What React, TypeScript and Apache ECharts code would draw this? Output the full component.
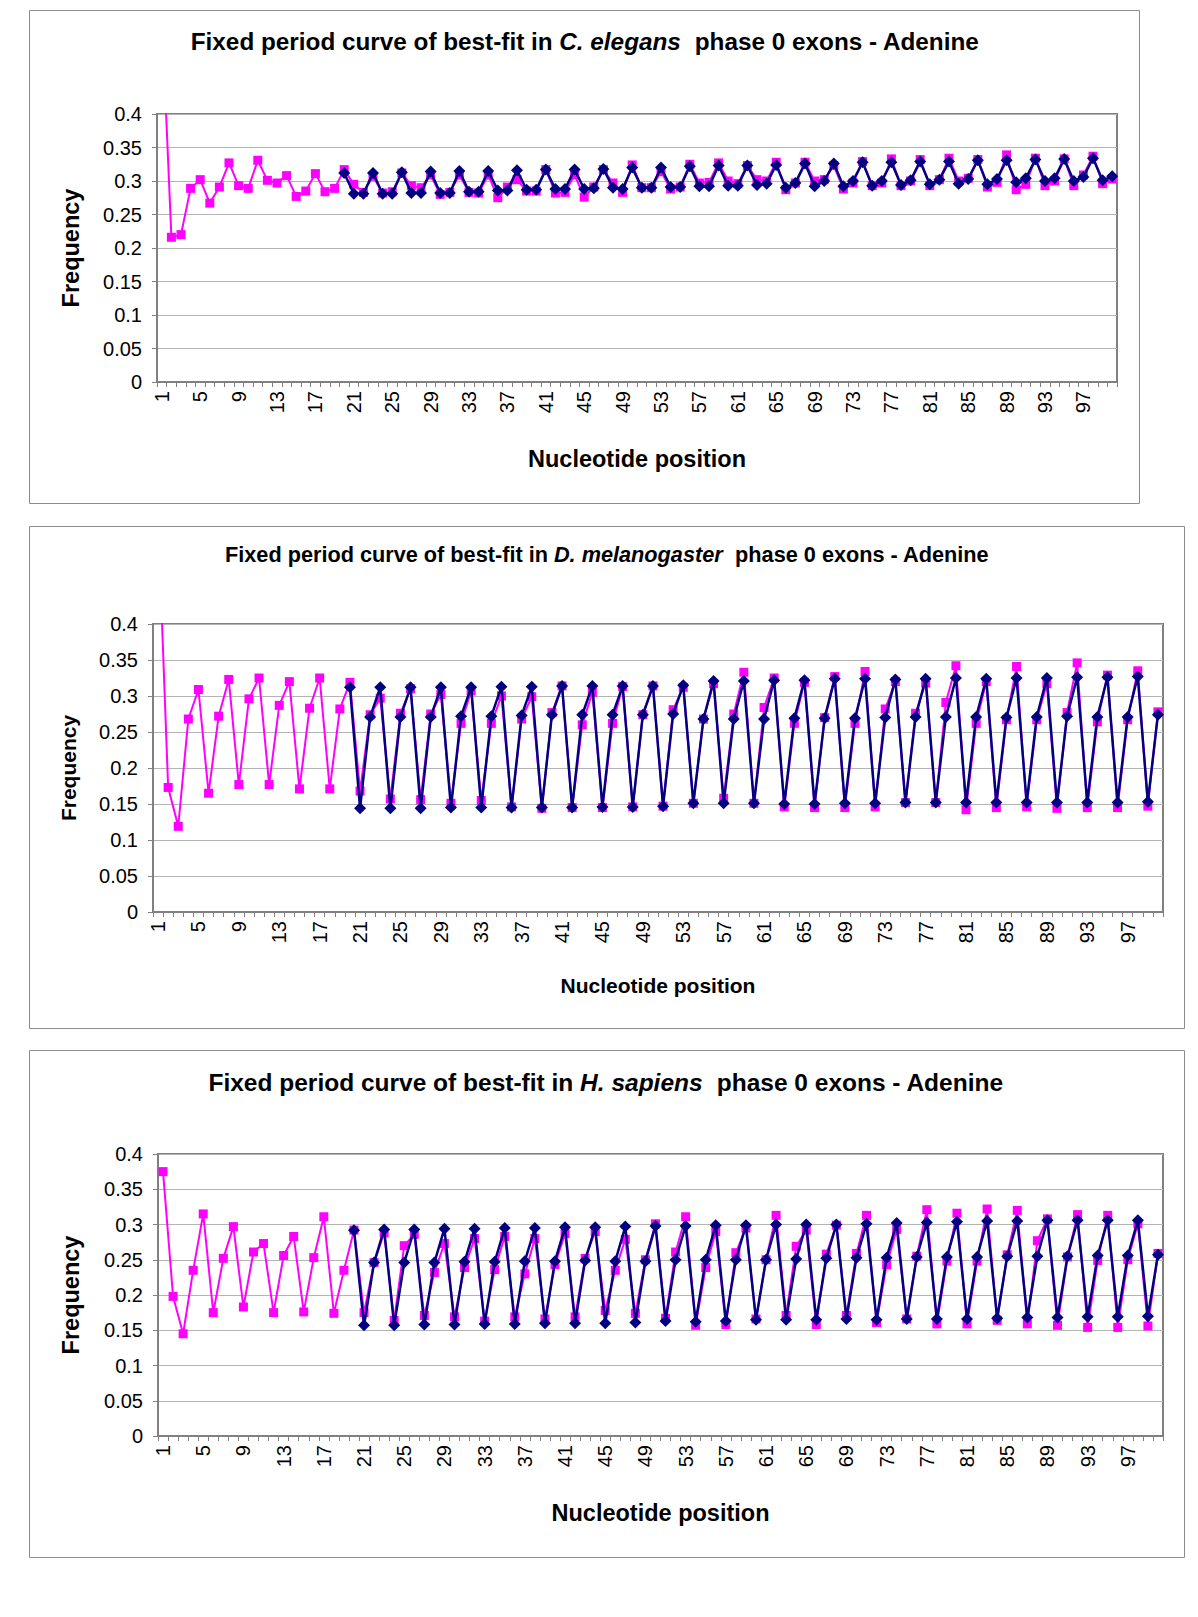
import React, { useEffect, useRef } from "react";
import * as echarts from "echarts";

// ---------- DATA ----------
const positions: string[] = Array.from({ length: 100 }, (_, i) => String(i + 1));
const FIT_START = 20; // best-fit curve starts at nucleotide 20

// C. elegans – observed adenine frequency (positions 1..100)
const celObserved = [
  0.55, 0.216, 0.22, 0.289, 0.302, 0.267, 0.291, 0.327, 0.293, 0.289,
  0.331, 0.301, 0.297, 0.308, 0.277, 0.285, 0.311, 0.284, 0.289, 0.317,
  0.295, 0.283, 0.307, 0.282, 0.284, 0.312, 0.293, 0.29, 0.309, 0.28,
  0.283, 0.309, 0.283, 0.282, 0.309, 0.275, 0.291, 0.302, 0.285, 0.285,
  0.317, 0.282, 0.283, 0.309, 0.276, 0.291, 0.317, 0.297, 0.283, 0.324,
  0.29, 0.29, 0.314, 0.288, 0.291, 0.325, 0.297, 0.298, 0.327, 0.3,
  0.296, 0.323, 0.302, 0.3, 0.328, 0.287, 0.297, 0.328, 0.3, 0.302,
  0.323, 0.288, 0.297, 0.329, 0.293, 0.297, 0.333, 0.293, 0.3, 0.332,
  0.293, 0.302, 0.334, 0.3, 0.304, 0.332, 0.291, 0.298, 0.339, 0.287,
  0.295, 0.334, 0.293, 0.3, 0.333, 0.293, 0.309, 0.337, 0.296, 0.303,
];
// C. elegans – fixed period best-fit curve (positions 20..100)
const celFit = [
  0.312, 0.281, 0.281, 0.312, 0.281, 0.281, 0.313, 0.282, 0.282, 0.314,
  0.282, 0.282, 0.315, 0.284, 0.284, 0.315, 0.286, 0.286, 0.316, 0.287,
  0.287, 0.317, 0.288, 0.288, 0.317, 0.288, 0.289, 0.318, 0.29, 0.288,
  0.32, 0.29, 0.29, 0.32, 0.291, 0.291, 0.322, 0.292, 0.292, 0.323,
  0.293, 0.293, 0.323, 0.294, 0.296, 0.324, 0.29, 0.297, 0.326, 0.292,
  0.3, 0.326, 0.292, 0.3, 0.328, 0.293, 0.3, 0.328, 0.294, 0.301,
  0.329, 0.295, 0.302, 0.329, 0.296, 0.303, 0.331, 0.295, 0.303, 0.331,
  0.298, 0.304, 0.332, 0.3, 0.304, 0.333, 0.3, 0.306, 0.334, 0.301,
  0.307,
];

// D. melanogaster – observed
const dmeObserved = [
  0.55, 0.173, 0.119, 0.268, 0.309, 0.165, 0.272, 0.323, 0.177, 0.296,
  0.325, 0.177, 0.287, 0.32, 0.171, 0.283, 0.325, 0.171, 0.282, 0.319,
  0.168, 0.274, 0.297, 0.157, 0.276, 0.31, 0.156, 0.275, 0.302, 0.151,
  0.262, 0.307, 0.155, 0.262, 0.3, 0.146, 0.268, 0.299, 0.144, 0.277,
  0.314, 0.145, 0.26, 0.305, 0.145, 0.262, 0.313, 0.146, 0.274, 0.314,
  0.147, 0.281, 0.312, 0.151, 0.268, 0.317, 0.158, 0.275, 0.333, 0.151,
  0.284, 0.325, 0.146, 0.262, 0.319, 0.145, 0.27, 0.327, 0.145, 0.262,
  0.334, 0.146, 0.282, 0.32, 0.152, 0.276, 0.318, 0.152, 0.291, 0.342,
  0.142, 0.262, 0.32, 0.145, 0.267, 0.341, 0.146, 0.267, 0.317, 0.144,
  0.277, 0.346, 0.145, 0.264, 0.329, 0.145, 0.267, 0.335, 0.147, 0.278,
];
// D. melanogaster – best-fit (positions 20..100)
const dmeFit = [
  0.312, 0.144, 0.271, 0.312, 0.144, 0.271, 0.312, 0.144, 0.271, 0.312,
  0.145, 0.272, 0.312, 0.145, 0.272, 0.313, 0.145, 0.273, 0.313, 0.145,
  0.274, 0.314, 0.145, 0.274, 0.314, 0.146, 0.274, 0.314, 0.146, 0.274,
  0.314, 0.147, 0.275, 0.315, 0.151, 0.268, 0.321, 0.151, 0.268, 0.321,
  0.151, 0.268, 0.322, 0.15, 0.269, 0.322, 0.15, 0.269, 0.324, 0.151,
  0.269, 0.324, 0.151, 0.27, 0.323, 0.152, 0.271, 0.324, 0.152, 0.271,
  0.325, 0.152, 0.271, 0.324, 0.152, 0.27, 0.325, 0.152, 0.271, 0.325,
  0.152, 0.272, 0.326, 0.152, 0.271, 0.326, 0.152, 0.271, 0.327, 0.153,
  0.274,
];

// H. sapiens – observed
const hsaObserved = [
  0.375, 0.198, 0.145, 0.235, 0.315, 0.175, 0.252, 0.297, 0.183, 0.261,
  0.273, 0.175, 0.256, 0.283, 0.176, 0.253, 0.311, 0.174, 0.235, 0.292,
  0.175, 0.246, 0.288, 0.164, 0.27, 0.286, 0.171, 0.232, 0.273, 0.169,
  0.239, 0.28, 0.163, 0.236, 0.283, 0.169, 0.23, 0.28, 0.166, 0.243,
  0.287, 0.169, 0.252, 0.29, 0.178, 0.235, 0.279, 0.174, 0.25, 0.301,
  0.167, 0.261, 0.311, 0.157, 0.239, 0.29, 0.158, 0.26, 0.295, 0.166,
  0.25, 0.313, 0.171, 0.269, 0.292, 0.158, 0.258, 0.299, 0.171, 0.259,
  0.313, 0.161, 0.243, 0.293, 0.166, 0.255, 0.321, 0.159, 0.248, 0.316,
  0.159, 0.248, 0.322, 0.164, 0.257, 0.32, 0.159, 0.277, 0.308, 0.157,
  0.254, 0.314, 0.154, 0.249, 0.313, 0.154, 0.25, 0.301, 0.156, 0.259,
];
// H. sapiens – best-fit (positions 20..100)
const hsaFit = [
  0.292, 0.157, 0.246, 0.293, 0.157, 0.246, 0.293, 0.158, 0.246, 0.294,
  0.158, 0.247, 0.294, 0.159, 0.247, 0.295, 0.159, 0.248, 0.295, 0.16,
  0.248, 0.296, 0.16, 0.249, 0.296, 0.16, 0.248, 0.297, 0.161, 0.248,
  0.298, 0.163, 0.25, 0.298, 0.162, 0.25, 0.299, 0.163, 0.25, 0.299,
  0.165, 0.25, 0.3, 0.165, 0.251, 0.3, 0.165, 0.252, 0.3, 0.166,
  0.253, 0.301, 0.165, 0.253, 0.302, 0.166, 0.254, 0.303, 0.166, 0.254,
  0.304, 0.166, 0.254, 0.305, 0.167, 0.255, 0.305, 0.168, 0.255, 0.306,
  0.168, 0.255, 0.306, 0.169, 0.256, 0.306, 0.169, 0.256, 0.306, 0.17,
  0.257,
];

const speciesNames = ["C. elegans", "D. melanogaster", "H. sapiens"];
const observedSets = [celObserved, dmeObserved, hsaObserved];
const fitSets = [celFit, dmeFit, hsaFit];

// ---------- LAYOUT ----------
const FONT = '"Liberation Sans", Arial, sans-serif';
const layouts = [
  { box: [29, 10, 1110, 493], grid: [157, 114, 960, 268], title: [585, 41], titleSize: 24.3, nameSize: 23.5, xGap: 65, yGap: 74 },
  { box: [29, 526, 1155, 502], grid: [153, 624, 1010, 288], title: [607, 554], titleSize: 21.7, nameSize: 21, xGap: 63, yGap: 74 },
  { box: [29, 1050, 1155, 507], grid: [158, 1154, 1005, 282], title: [606, 1082], titleSize: 24.5, nameSize: 23.5, xGap: 65, yGap: 75 },
];

export default function App() {
  const ref = useRef<HTMLDivElement>(null);

  useEffect(() => {
    if (!ref.current) return;
    const chart = echarts.init(ref.current, undefined, { renderer: "svg" });

    const grids = layouts.map((l) => ({
      left: l.grid[0],
      top: l.grid[1],
      width: l.grid[2],
      height: l.grid[3],
      show: true,
      borderColor: "#808080",
      borderWidth: 2,
      backgroundColor: "#ffffff",
    }));

    const xAxes = layouts.map((l, i) => ({
      type: "category",
      gridIndex: i,
      data: positions,
      boundaryGap: true,
      name: "Nucleotide position",
      nameLocation: "middle",
      nameGap: l.xGap,
      nameTextStyle: { fontFamily: FONT, fontWeight: "bold", fontSize: l.nameSize, color: "#000" },
      axisLine: { show: true, lineStyle: { color: "#808080", width: 2 } },
      axisTick: { show: true, interval: 0, length: 5, lineStyle: { color: "#808080", width: 1 } },
      axisLabel: { interval: 3, rotate: 90, margin: 9, fontFamily: FONT, fontSize: 20, color: "#000" },
      splitLine: { show: false },
    }));

    const yAxes = layouts.map((l, i) => ({
      type: "value",
      gridIndex: i,
      min: 0,
      max: 0.4,
      interval: 0.05,
      name: "Frequency",
      nameLocation: "middle",
      nameGap: l.yGap,
      nameTextStyle: { fontFamily: FONT, fontWeight: "bold", fontSize: l.nameSize, color: "#000" },
      axisLine: { show: true, lineStyle: { color: "#808080", width: 2 } },
      axisTick: { show: true, length: 5, lineStyle: { color: "#808080", width: 1 } },
      axisLabel: {
        margin: 15,
        fontFamily: FONT,
        fontSize: 20,
        color: "#000",
        formatter: (v: number) => String(Math.round(v * 100) / 100),
      },
      splitLine: { show: true, lineStyle: { color: "#b4b4b4", width: 1 } },
    }));

    const series: any[] = [];
    observedSets.forEach((obs, i) => {
      series.push({
        type: "line",
        name: speciesNames[i] + " observed",
        xAxisIndex: i,
        yAxisIndex: i,
        data: obs,
        symbol: "rect",
        symbolSize: 9,
        showAllSymbol: true,
        clip: true,
        lineStyle: { color: "#FF00FF", width: 2 },
        itemStyle: { color: "#FF00FF" },
        z: 2,
      });
      const fit = [...Array(FIT_START - 1).fill(null), ...fitSets[i]];
      series.push({
        type: "line",
        name: speciesNames[i] + " best-fit",
        xAxisIndex: i,
        yAxisIndex: i,
        data: fit,
        symbol: "diamond",
        symbolSize: 12,
        showAllSymbol: true,
        clip: true,
        lineStyle: { color: "#000080", width: 2.5 },
        itemStyle: { color: "#000080" },
        z: 3,
      });
    });

    const graphics: any[] = [];
    layouts.forEach((l, i) => {
      graphics.push({
        type: "rect",
        silent: true,
        z: -10,
        shape: { x: l.box[0] + 0.5, y: l.box[1] + 0.5, width: l.box[2], height: l.box[3] },
        style: { fill: "none", stroke: "#8c8c8c", lineWidth: 1 },
      });
      graphics.push({
        type: "text",
        x: l.title[0],
        y: l.title[1],
        style: {
          text: `{n|Fixed period curve of best-fit in }{s|${speciesNames[i]}}{n|  phase 0 exons - Adenine}`,
          rich: {
            n: { fontFamily: FONT, fontSize: l.titleSize, fontWeight: "bold", fill: "#000" },
            s: { fontFamily: FONT, fontSize: l.titleSize, fontWeight: "bold", fontStyle: "italic", fill: "#000" },
          },
          align: "center",
          verticalAlign: "middle",
          textAlign: "center",
          textVerticalAlign: "middle",
        },
      });
    });

    chart.setOption({
      animation: false,
      backgroundColor: "#ffffff",
      grid: grids,
      xAxis: xAxes,
      yAxis: yAxes,
      series,
      graphic: graphics,
    });

    return () => chart.dispose();
  }, []);

  return (
    <div
      ref={ref}
      style={{ position: "absolute", left: 0, top: 0, width: 1198, height: 1617, background: "#fff" }}
    />
  );
}
